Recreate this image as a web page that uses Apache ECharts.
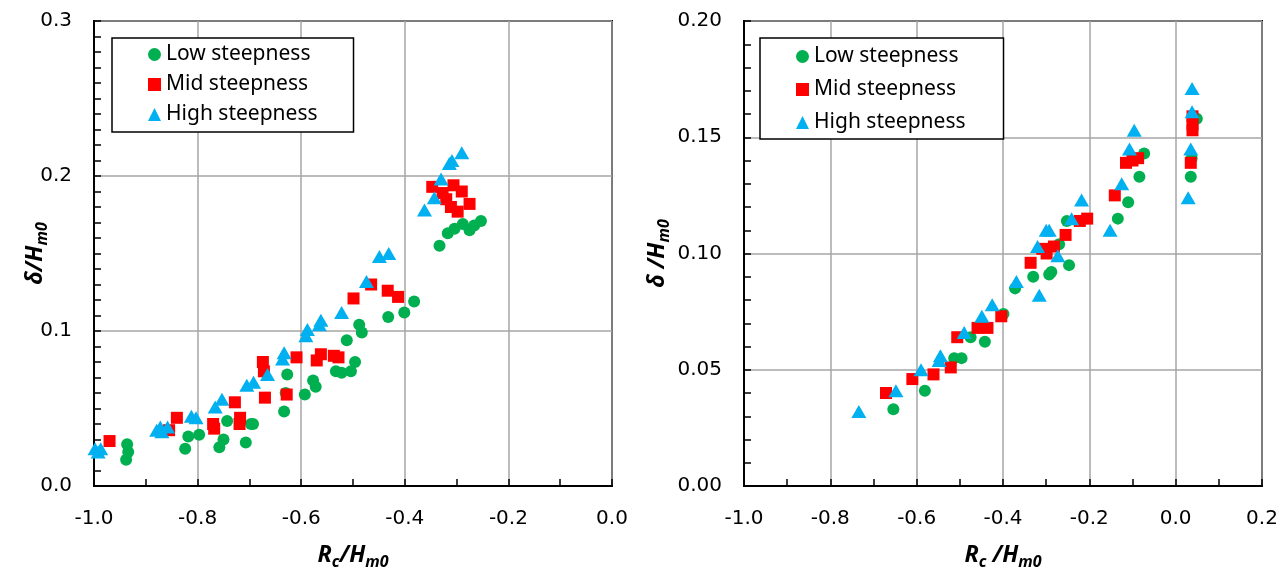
<!DOCTYPE html>
<html>
<head>
<meta charset="utf-8">
<script src="https://cdn.jsdelivr.net/npm/echarts@6/dist/echarts.min.js"></script>
<style>
html,body{margin:0;padding:0;background:#fff;}
#chart{width:1288px;height:575px;}
</style>
</head>
<body>
<div id="chart"></div>
<script>
// ---------- data (x = Rc/Hm0, y = delta/Hm0) ----------
const seriesNames = ['Low steepness', 'Mid steepness', 'High steepness'];

const leftLow = [[-0.936,0.027],[-0.934,0.022],[-0.938,0.017],[-0.824,0.024],[-0.818,0.032],[-0.797,0.033],[-0.758,0.025],[-0.750,0.030],[-0.743,0.042],[-0.707,0.028],[-0.697,0.040],[-0.693,0.040],[-0.633,0.048],[-0.630,0.060],[-0.627,0.072],[-0.593,0.059],[-0.577,0.068],[-0.572,0.064],[-0.533,0.074],[-0.522,0.073],[-0.504,0.074],[-0.496,0.080],[-0.512,0.094],[-0.488,0.104],[-0.483,0.099],[-0.432,0.109],[-0.401,0.112],[-0.382,0.119],[-0.333,0.155],[-0.317,0.163],[-0.304,0.166],[-0.288,0.169],[-0.275,0.165],[-0.266,0.168],[-0.253,0.171]];
const leftMid = [[-0.970,0.029],[-0.855,0.036],[-0.840,0.044],[-0.770,0.040],[-0.768,0.037],[-0.728,0.054],[-0.718,0.044],[-0.719,0.040],[-0.674,0.080],[-0.672,0.074],[-0.670,0.057],[-0.628,0.059],[-0.609,0.083],[-0.570,0.081],[-0.562,0.085],[-0.537,0.084],[-0.528,0.083],[-0.499,0.121],[-0.465,0.130],[-0.433,0.126],[-0.413,0.122],[-0.347,0.193],[-0.327,0.189],[-0.306,0.194],[-0.290,0.190],[-0.275,0.182],[-0.320,0.185],[-0.311,0.180],[-0.298,0.177]];
const leftHigh = [[-0.998,0.024],[-0.992,0.022],[-0.987,0.024],[-0.879,0.036],[-0.869,0.035],[-0.872,0.038],[-0.858,0.038],[-0.812,0.045],[-0.803,0.044],[-0.766,0.051],[-0.753,0.056],[-0.705,0.065],[-0.692,0.067],[-0.665,0.072],[-0.636,0.082],[-0.633,0.086],[-0.591,0.097],[-0.588,0.101],[-0.565,0.104],[-0.562,0.107],[-0.522,0.112],[-0.474,0.132],[-0.449,0.148],[-0.431,0.150],[-0.362,0.178],[-0.343,0.186],[-0.330,0.198],[-0.314,0.208],[-0.309,0.210],[-0.290,0.215]];

const rightLow = [[-0.654,0.033],[-0.581,0.041],[-0.513,0.055],[-0.496,0.055],[-0.475,0.064],[-0.442,0.062],[-0.399,0.074],[-0.372,0.085],[-0.330,0.090],[-0.293,0.091],[-0.288,0.092],[-0.247,0.095],[-0.270,0.104],[-0.252,0.114],[-0.134,0.115],[-0.110,0.122],[-0.084,0.133],[-0.073,0.143],[0.035,0.133],[0.037,0.141],[0.049,0.158]];
const rightMid = [[-0.671,0.040],[-0.610,0.046],[-0.561,0.048],[-0.521,0.051],[-0.506,0.064],[-0.459,0.068],[-0.436,0.068],[-0.404,0.073],[-0.336,0.096],[-0.309,0.102],[-0.299,0.100],[-0.282,0.103],[-0.255,0.108],[-0.222,0.114],[-0.205,0.115],[-0.141,0.125],[-0.115,0.139],[-0.100,0.140],[-0.087,0.141],[0.035,0.139],[0.039,0.159],[0.039,0.1555],[0.039,0.153]];
const rightHigh = [[-0.734,0.032],[-0.648,0.041],[-0.590,0.050],[-0.548,0.054],[-0.545,0.056],[-0.490,0.066],[-0.449,0.073],[-0.425,0.078],[-0.369,0.088],[-0.316,0.082],[-0.320,0.103],[-0.300,0.110],[-0.293,0.110],[-0.273,0.099],[-0.241,0.115],[-0.218,0.123],[-0.152,0.110],[-0.125,0.130],[-0.107,0.145],[-0.096,0.153],[0.029,0.124],[0.035,0.145],[0.038,0.161],[0.038,0.171]];

// axis ranges / tick steps
const leftX = {min: -1.0, max: 0.0, interval: 0.2};
const leftY = {min: 0, max: 0.3, interval: 0.1};
const rightX = {min: -1.0, max: 0.2, interval: 0.2};
const rightY = {min: 0, max: 0.2, interval: 0.05};

// ---------- styling ----------
const colors = ['#00B050', '#FF0000', '#00B0F0'];
const symbols = ['circle', 'rect', 'triangle'];
const symbolSizes = [12, 12, [15, 13]];
const FONT = '"Noto Sans", "DejaVu Sans", sans-serif';
const TICKFONT = '"DejaVu Sans", "Noto Sans", sans-serif';

const nameRich = {
  i: {fontFamily: FONT, fontSize: 23, fontWeight: 'bold', fontStyle: 'italic', color: '#000', lineHeight: 30, verticalAlign: 'middle'},
  s: {fontFamily: FONT, fontSize: 16, fontWeight: 'bold', fontStyle: 'italic', color: '#000', lineHeight: 30, verticalAlign: 'bottom'}
};

function xAxisCfg(gridIndex, r, name, gap) {
  return {
    type: 'value', gridIndex: gridIndex,
    min: r.min, max: r.max, interval: r.interval,
    name: name, nameLocation: 'middle', nameGap: gap, nameMoveOverlap: false,
    nameTextStyle: {rich: nameRich},
    axisLine: {show: true, onZero: false, lineStyle: {color: '#000', width: 2}},
    axisTick: {show: true, inside: true, length: 7, lineStyle: {color: '#000', width: 1.5}},
    minorTick: {show: true, splitNumber: 2, length: 7, lineStyle: {color: '#000', width: 1.5}},
    splitLine: {show: true, lineStyle: {color: '#A6A6A6', width: 1.5}},
    axisLabel: {margin: 23, fontFamily: TICKFONT, fontSize: 20, color: '#000',
      showMinLabel: true, showMaxLabel: true, hideOverlap: false,
      formatter: v => v.toFixed(1)}
  };
}
function yAxisCfg(gridIndex, r, minorSplit, digits, name, gap) {
  return {
    type: 'value', gridIndex: gridIndex,
    min: r.min, max: r.max, interval: r.interval,
    name: name, nameLocation: 'middle', nameGap: gap, nameRotate: 90, nameMoveOverlap: false,
    nameTextStyle: {rich: nameRich},
    axisLine: {show: true, onZero: false, lineStyle: {color: '#000', width: 2}},
    axisTick: {show: true, inside: true, length: 7, lineStyle: {color: '#000', width: 1.5}},
    minorTick: {show: true, splitNumber: minorSplit, length: 7, lineStyle: {color: '#000', width: 1.5}},
    splitLine: {show: true, lineStyle: {color: '#A6A6A6', width: 1.5}},
    axisLabel: {margin: 22, fontFamily: TICKFONT, fontSize: 20, color: '#000',
      showMinLabel: true, showMaxLabel: true,
      formatter: v => v.toFixed(digits)}
  };
}

function scatter(name, data, k, axisIndex) {
  return {
    type: 'scatter', name: name, data: data,
    xAxisIndex: axisIndex, yAxisIndex: axisIndex,
    symbol: symbols[k], symbolSize: symbolSizes[k],
    itemStyle: {color: colors[k], opacity: 1},
    emphasis: {disabled: true},
    silent: true
  };
}

function legendCfg(left, top, gap, pad) {
  return {
    orient: 'vertical', left: left, top: top,
    data: seriesNames,
    itemWidth: 13, itemHeight: 13, itemGap: gap,
    padding: pad,
    borderColor: '#000', borderWidth: 1.5, borderRadius: 0,
    backgroundColor: '#fff',
    selectedMode: false,
    textStyle: {fontFamily: FONT, fontSize: 21, color: '#000'}
  };
}

const chart = echarts.init(document.getElementById('chart'), null, {renderer: 'canvas'});
chart.setOption({
  backgroundColor: '#fff',
  animation: false,
  grid: [
    {left: 94, top: 21, width: 518, height: 473, show: true, borderColor: '#000', borderWidth: 2, backgroundColor: 'transparent'},
    {left: 744, top: 21, width: 518, height: 474, show: true, borderColor: '#000', borderWidth: 2, backgroundColor: 'transparent'}
  ],
  legend: [
    legendCfg(112, 38, 9, [6, 36, 7, 36]),
    legendCfg(760, 38, 12, [8, 38, 6, 36])
  ],
  xAxis: [
    xAxisCfg(0, leftX, '{i|R}{s|c}{i|/H}{s|m0}', 54),
    xAxisCfg(1, rightX, '{i|R}{s|c}{i| /H}{s|m0}', 54)
  ],
  yAxis: [
    yAxisCfg(0, leftY, 10, 1, '{i|δ/H}{s|m0}', 44),
    yAxisCfg(1, rightY, 5, 2, '{i|δ /H}{s|m0}', 72)
  ],
  series: [
    scatter(seriesNames[0], leftLow, 0, 0),
    scatter(seriesNames[1], leftMid, 1, 0),
    scatter(seriesNames[2], leftHigh, 2, 0),
    scatter(seriesNames[0], rightLow, 0, 1),
    scatter(seriesNames[1], rightMid, 1, 1),
    scatter(seriesNames[2], rightHigh, 2, 1)
  ]
});
</script>
</body>
</html>
